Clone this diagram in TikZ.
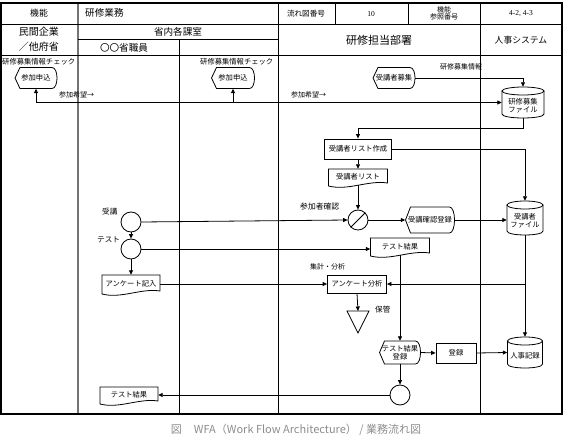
\documentclass[tikz,border=0pt]{standalone}
\usepackage{fontspec}
\setmainfont{Noto Sans CJK JP}
\newfontfamily\numfont{Liberation Serif}
\usetikzlibrary{arrows.meta,calc}
\tikzset{
  gridline/.style={line width=0.9pt,draw=black},
  lanegray/.style={line width=1.3pt,draw=black!55},
  outline/.style={line width=0.8pt},
  conn/.style={line width=0.8pt,-{Triangle[length=4.5pt,width=4pt]}},
  lbl/.style={font=\fontsize{7}{7.5}\selectfont,inner sep=0pt},
  shapetxt/.style={font=\fontsize{7.3}{8.2}\selectfont,inner sep=0pt,align=center},
  hdr/.style={font=\fontsize{9.6}{10}\selectfont,inner sep=0pt,align=center},
  hdrsmall/.style={font=\fontsize{7.6}{8}\selectfont,inner sep=0pt,align=center},
  rectbox/.style={shapetxt,draw,outline},
  circbox/.style={circle,draw,outline,minimum size=20pt,inner sep=0pt},
}
% display shape: name, cx, cy, w, h, text
\newcommand\dispshape[6]{%
  \node[shapetxt,minimum width=#4pt,minimum height=#5pt] (#1) at (#2,#3) {#6};
  \draw[outline] ({#2-#4/2},#3) -- ({#2-#4/2+5},{#3-#5/2}) -- ({#2+#4/2-5},{#3-#5/2})
    .. controls ({#2+#4/2+1.67},{#3-#5/2}) and ({#2+#4/2+1.67},{#3+#5/2}) .. ({#2+#4/2-5},{#3+#5/2})
    -- ({#2-#4/2+5},{#3+#5/2}) -- cycle;
}
% document shape
\newcommand\docshape[6]{%
  \node[shapetxt,minimum width=#4pt,minimum height=#5pt] (#1) at (#2,#3) {#6};
  \draw[outline] ({#2-#4/2},{#3+#5/2+1}) -- ({#2-#4/2},{#3-#5/2}) -- ({#2+#4/2},{#3-#5/2})
    -- ({#2+#4/2},{#3+#5/2-2})
    .. controls ({#2+#4/6},{#3+#5/2-5}) and ({#2-#4/6},{#3+#5/2+6}) .. ({#2-#4/2},{#3+#5/2+1}) -- cycle;
}
% cylinder
\newcommand\cylshape[6]{%
  \node[shapetxt,minimum width=#4pt,minimum height=#5pt] (#1) at (#2,#3) {};
  \draw[outline,fill=white] ({#2-#4/2},{#3-#5/2+4}) -- ({#2-#4/2},{#3+#5/2-4})
    .. controls ({#2-#4/2},{#3+#5/2+1.33}) and ({#2+#4/2},{#3+#5/2+1.33}) .. ({#2+#4/2},{#3+#5/2-4})
    -- ({#2+#4/2},{#3-#5/2+4});
  \draw[outline] (#2,{#3-#5/2+4}) ellipse ({#4/2} and 4);
  \node[shapetxt] at (#2,{#3+3}) {#6};
}
\begin{document}
\begin{tikzpicture}[x=1pt,y=-1pt]
\useasboundingbox (0,0) rectangle (566,436);

% ---------- frame and lanes ----------
\draw[lanegray] (78,3) -- (78,414);
\draw[gridline] (179,39) -- (179,414);
\draw[gridline] (278,3) -- (278,414);
\draw[gridline] (480,3) -- (480,414);
\draw[gridline] (335,3) -- (335,24);
\draw[gridline] (408,3) -- (408,24);
\draw[gridline] (1,24) -- (562,24);
\draw[gridline] (78,39) -- (278,39);
\draw[gridline] (1,55) -- (562,55);
\draw[line width=1.2pt] (1,3) rectangle (562,414);

% ---------- header texts ----------
\node[hdr,font=\fontsize{8.8}{9}\selectfont] (h1) at (39,13) {機能};
\node[hdr,anchor=west] (h2) at (85,13) {研修業務};
\node[hdrsmall] (h3) at (306,14) {流れ図番号};
\node[hdrsmall,font=\numfont\fontsize{7.5}{8}\selectfont] (h4) at (371,14) {10};
\node[hdrsmall,font=\fontsize{7}{7.2}\selectfont] (h5) at (444,13.5) {機能\\参照番号};
\node[hdrsmall,font=\numfont\fontsize{7.5}{8}\selectfont] (h6) at (521,14) {4-2, 4-3};
\node[hdr,font=\fontsize{10}{11}\selectfont] (h7) at (39,31.5) {民間企業};
\node[hdr,font=\fontsize{10}{11}\selectfont] (h8) at (39,47) {／他府省};
\node[hdr] (h9) at (178,31.5) {省内各課室};
\node[hdr] (h10) at (124,47.5) {〇〇省職員};
\node[hdr,font=\fontsize{11}{12}\selectfont] (h11) at (379,40) {研修担当部署};
\node[hdr,font=\fontsize{8.8}{9}\selectfont] (h12) at (521,40) {人事システム};

% ---------- shapes ----------
\node[lbl,font=\fontsize{7.3}{8}\selectfont,anchor=west] (l1) at (2,62) {研修募集情報チェック};
\node[lbl,font=\fontsize{7.3}{8}\selectfont,anchor=west] (l2) at (200,62) {研修募集情報チェック};
\dispshape{apply1}{36}{78}{42}{21}{参加申込}
\dispshape{apply2}{233}{78}{43}{21}{参加申込}
\dispshape{recruit}{394}{78}{42}{21}{受講者募集}
\node[lbl,anchor=west] (l3) at (440,67) {研修募集情報};
\cylshape{file1}{523}{102.5}{42}{31}{研修募集\\ファイル}
\node[lbl,anchor=west] (l4) at (59,95) {参加希望→};
\node[lbl,anchor=west] (l5) at (291,95) {参加希望→};

\node[rectbox,minimum width=67pt,minimum height=20pt] (listmake) at (358,149) {受講者リスト作成};
\docshape{list}{358}{177}{59}{16}{受講者リスト}
\node[circbox] (chk) at (358,220) {};
\draw[outline] (chk.south west) -- (chk.north east);
\node[lbl,font=\fontsize{7.8}{8}\selectfont,anchor=west] (l6) at (300,207) {参加者確認};
\dispshape{confirm}{430}{220}{49}{26}{受講確認登録}
\cylshape{cfile}{525}{218}{36}{34}{受講者\\ファイル}

\node[circbox] (attend) at (131,222) {};
\node[lbl,font=\fontsize{7.6}{8}\selectfont,anchor=west] (l7) at (102,212) {受講};
\node[circbox] (test) at (131,249) {};
\node[lbl,font=\fontsize{7.6}{8}\selectfont,anchor=west] (l8) at (97,240) {テスト};
\docshape{result}{400}{246.5}{59}{17}{テスト結果}
\docshape{survey}{131}{284}{58}{18}{アンケート記入}
\node[rectbox,minimum width=59pt,minimum height=18pt] (analysis) at (357,284) {アンケート分析};
\node[lbl,anchor=west] (l9) at (310,267) {集計・分析};
\coordinate (store) at (358,311);
\draw[outline] (347,311) -- (369,311) -- (358,333) -- cycle;
\node[lbl,font=\fontsize{7.6}{8}\selectfont,anchor=west] (l10) at (375,310) {保管};

\dispshape{reslog}{400}{352.5}{41}{23}{テスト結果\\登録}
\node[rectbox,minimum width=40pt,minimum height=20pt] (reg) at (456,353) {登録};
\cylshape{hr}{525}{352.5}{35}{31}{人事記録}
\node[circbox] (endc) at (400,395) {};
\docshape{res2}{129}{395}{58}{16}{テスト結果}

% ---------- connectors ----------
\draw[conn] (recruit.east) -| (file1.north);
\draw[conn,{Triangle[length=4.5pt,width=4pt]}-{Triangle[length=4.5pt,width=4pt]}] (apply1.south) |- (file1.west);
\draw[conn] (file1.west -| apply2.south) -- (apply2.south);
\draw[conn] (file1.south) -- ++(0,10) -| (listmake.north);
\draw[conn] (listmake.east) -| (cfile.north);
\draw[conn] (listmake.south) -- (list.north);
\draw[conn] (list.south) -- (chk.north);
\draw[conn] (attend.east) -- (chk.west);
\draw[conn] (chk.east) -- (confirm.west);
\draw[conn] (confirm.east) -- (confirm.east -| cfile.west);
\draw[conn] (attend.south) -- (test.north);
\draw[conn] (test.east) -- (test.east -| result.west);
\draw[conn] (test.south) -- (survey.north);
\draw[conn] (survey.east) -- (analysis.west);
\draw[conn] (cfile.south) -- (hr.north);
\draw[conn] (cfile.south |- analysis.east) -- (analysis.east);
\draw[conn] (analysis.south) -- (store);
\draw[conn] (result.south) -- (reslog.north);
\draw[conn] (reslog.east) -- (reg.west);
\draw[conn] (reg.east) -- (hr.west);
\draw[conn] (reslog.south) -- (endc.north);
\draw[conn] (endc.west) -- (res2.east);

% ---------- caption ----------
\node[font=\fontsize{11}{12}\selectfont,text=black!45,inner sep=0pt] (cap) at (296,430) {図\hspace{1.1em}WFA（Work Flow Architecture） /  業務流れ図};
\end{tikzpicture}
\end{document}
